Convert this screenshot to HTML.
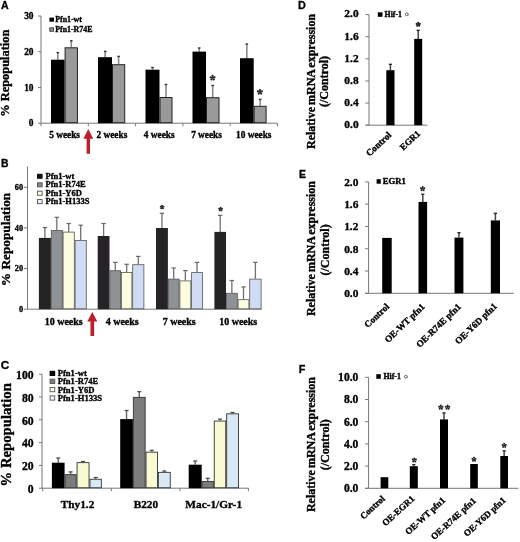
<!DOCTYPE html>
<html><head><meta charset="utf-8"><style>
html,body{margin:0;padding:0;background:#fff;}
body{width:520px;height:542px;overflow:hidden;}
svg{display:block;will-change:transform;}
</style></head><body>
<svg width="520" height="542" viewBox="0 0 520 542" shape-rendering="geometricPrecision">
<rect width="520" height="542" fill="#fff"/>
<text x="1.0" y="9.0" font-size="10.6" text-anchor="start" font-family="'Liberation Sans', sans-serif" font-weight="bold" fill="#000" stroke="#000" stroke-width="0.3" stroke-linejoin="round">A</text>
<line x1="41.0" y1="16.0" x2="41.0" y2="123.2" stroke="#777" stroke-width="1"/>
<line x1="38.0" y1="123.2" x2="41.0" y2="123.2" stroke="#777" stroke-width="1"/>
<text x="33.5" y="126.4" font-size="9.4" text-anchor="end" font-family="'Liberation Serif', serif" font-weight="bold" fill="#000" stroke="#000" stroke-width="0.35" stroke-linejoin="round">0</text>
<line x1="38.0" y1="87.46666666666667" x2="41.0" y2="87.46666666666667" stroke="#777" stroke-width="1"/>
<text x="33.5" y="90.66666666666667" font-size="9.4" text-anchor="end" font-family="'Liberation Serif', serif" font-weight="bold" fill="#000" stroke="#000" stroke-width="0.35" stroke-linejoin="round">10</text>
<line x1="38.0" y1="51.733333333333334" x2="41.0" y2="51.733333333333334" stroke="#777" stroke-width="1"/>
<text x="33.5" y="54.93333333333334" font-size="9.4" text-anchor="end" font-family="'Liberation Serif', serif" font-weight="bold" fill="#000" stroke="#000" stroke-width="0.35" stroke-linejoin="round">20</text>
<line x1="38.0" y1="16.0" x2="41.0" y2="16.0" stroke="#777" stroke-width="1"/>
<text x="33.5" y="19.2" font-size="9.4" text-anchor="end" font-family="'Liberation Serif', serif" font-weight="bold" fill="#000" stroke="#000" stroke-width="0.35" stroke-linejoin="round">30</text>
<line x1="41.0" y1="123.2" x2="277.5" y2="123.2" stroke="#777" stroke-width="1"/>
<line x1="41.0" y1="123.2" x2="41.0" y2="126.2" stroke="#777" stroke-width="1"/>
<line x1="88.3" y1="123.2" x2="88.3" y2="126.2" stroke="#777" stroke-width="1"/>
<line x1="135.6" y1="123.2" x2="135.6" y2="126.2" stroke="#777" stroke-width="1"/>
<line x1="182.89999999999998" y1="123.2" x2="182.89999999999998" y2="126.2" stroke="#777" stroke-width="1"/>
<line x1="230.2" y1="123.2" x2="230.2" y2="126.2" stroke="#777" stroke-width="1"/>
<line x1="277.5" y1="123.2" x2="277.5" y2="126.2" stroke="#777" stroke-width="1"/>
<line x1="57.8" y1="52.6" x2="57.8" y2="59.7" stroke="#8a8a8a" stroke-width="1.6"/>
<line x1="56.5" y1="52.6" x2="59.099999999999994" y2="52.6" stroke="#333" stroke-width="1.4"/>
<line x1="71.3" y1="40.8" x2="71.3" y2="47.3" stroke="#8a8a8a" stroke-width="1.6"/>
<line x1="70.0" y1="40.8" x2="72.6" y2="40.8" stroke="#333" stroke-width="1.4"/>
<rect x="51.00" y="59.70" width="13.60" height="63.50" fill="#000"/>
<rect x="65.10" y="47.80" width="12.30" height="74.90" fill="#9a9a9a" stroke="#222" stroke-width="1.0"/>
<line x1="105.2" y1="51.4" x2="105.2" y2="57.2" stroke="#8a8a8a" stroke-width="1.6"/>
<line x1="103.9" y1="51.4" x2="106.5" y2="51.4" stroke="#333" stroke-width="1.4"/>
<line x1="118.6" y1="56.4" x2="118.6" y2="64.2" stroke="#8a8a8a" stroke-width="1.6"/>
<line x1="117.3" y1="56.4" x2="119.89999999999999" y2="56.4" stroke="#333" stroke-width="1.4"/>
<rect x="98.00" y="57.20" width="14.00" height="66.00" fill="#000"/>
<rect x="112.50" y="64.70" width="12.20" height="58.00" fill="#9a9a9a" stroke="#222" stroke-width="1.0"/>
<line x1="152.5" y1="67.5" x2="152.5" y2="69.7" stroke="#8a8a8a" stroke-width="1.6"/>
<line x1="151.2" y1="67.5" x2="153.8" y2="67.5" stroke="#333" stroke-width="1.4"/>
<line x1="166" y1="84.5" x2="166" y2="97.0" stroke="#8a8a8a" stroke-width="1.6"/>
<line x1="164.7" y1="84.5" x2="167.3" y2="84.5" stroke="#333" stroke-width="1.4"/>
<rect x="145.50" y="69.70" width="14.00" height="53.50" fill="#000"/>
<rect x="160.00" y="97.50" width="12.00" height="25.20" fill="#9a9a9a" stroke="#222" stroke-width="1.0"/>
<line x1="199.2" y1="48.0" x2="199.2" y2="51.6" stroke="#8a8a8a" stroke-width="1.6"/>
<line x1="197.89999999999998" y1="48.0" x2="200.5" y2="48.0" stroke="#333" stroke-width="1.4"/>
<line x1="212.7" y1="85.5" x2="212.7" y2="97.2" stroke="#8a8a8a" stroke-width="1.6"/>
<line x1="211.39999999999998" y1="85.5" x2="214.0" y2="85.5" stroke="#333" stroke-width="1.4"/>
<rect x="192.50" y="51.60" width="13.50" height="71.60" fill="#000"/>
<rect x="206.50" y="97.70" width="12.50" height="25.00" fill="#9a9a9a" stroke="#222" stroke-width="1.0"/>
<line x1="246.8" y1="44.0" x2="246.8" y2="58.2" stroke="#8a8a8a" stroke-width="1.6"/>
<line x1="245.5" y1="44.0" x2="248.10000000000002" y2="44.0" stroke="#333" stroke-width="1.4"/>
<line x1="260.2" y1="99.4" x2="260.2" y2="105.8" stroke="#8a8a8a" stroke-width="1.6"/>
<line x1="258.9" y1="99.4" x2="261.5" y2="99.4" stroke="#333" stroke-width="1.4"/>
<rect x="240.00" y="58.20" width="13.70" height="65.00" fill="#000"/>
<rect x="254.20" y="106.30" width="11.90" height="16.40" fill="#9a9a9a" stroke="#222" stroke-width="1.0"/>
<g><line x1="212.60" y1="77.90" x2="212.60" y2="75.35" stroke="#222" stroke-width="0.75"/><circle cx="212.60" cy="75.91" r="1.11" fill="#222"/><line x1="212.60" y1="77.90" x2="215.03" y2="77.11" stroke="#222" stroke-width="0.75"/><circle cx="214.49" cy="77.29" r="1.11" fill="#222"/><line x1="212.60" y1="77.90" x2="214.10" y2="79.96" stroke="#222" stroke-width="0.75"/><circle cx="213.77" cy="79.51" r="1.11" fill="#222"/><line x1="212.60" y1="77.90" x2="211.10" y2="79.96" stroke="#222" stroke-width="0.75"/><circle cx="211.43" cy="79.51" r="1.11" fill="#222"/><line x1="212.60" y1="77.90" x2="210.17" y2="77.11" stroke="#222" stroke-width="0.75"/><circle cx="210.71" cy="77.29" r="1.11" fill="#222"/><circle cx="212.60" cy="77.90" r="0.89" fill="#222" opacity="0.75"/></g>
<g><line x1="259.90" y1="92.00" x2="259.90" y2="89.45" stroke="#222" stroke-width="0.75"/><circle cx="259.90" cy="90.01" r="1.11" fill="#222"/><line x1="259.90" y1="92.00" x2="262.33" y2="91.21" stroke="#222" stroke-width="0.75"/><circle cx="261.79" cy="91.39" r="1.11" fill="#222"/><line x1="259.90" y1="92.00" x2="261.40" y2="94.06" stroke="#222" stroke-width="0.75"/><circle cx="261.07" cy="93.61" r="1.11" fill="#222"/><line x1="259.90" y1="92.00" x2="258.40" y2="94.06" stroke="#222" stroke-width="0.75"/><circle cx="258.73" cy="93.61" r="1.11" fill="#222"/><line x1="259.90" y1="92.00" x2="257.47" y2="91.21" stroke="#222" stroke-width="0.75"/><circle cx="258.01" cy="91.39" r="1.11" fill="#222"/><circle cx="259.90" cy="92.00" r="0.89" fill="#222" opacity="0.75"/></g>
<rect x="49.40" y="17.60" width="4.60" height="4.10" fill="#000"/>
<rect x="49.85" y="27.85" width="3.70" height="3.40" fill="#9a9a9a" stroke="#333" stroke-width="0.9"/>
<text x="55.2" y="21.6" font-size="7.9" text-anchor="start" font-family="'Liberation Serif', serif" font-weight="bold" fill="#000" stroke="#000" stroke-width="0.35" stroke-linejoin="round">Pfn1-wt</text>
<text x="55.2" y="31.8" font-size="7.9" text-anchor="start" font-family="'Liberation Serif', serif" font-weight="bold" fill="#000" stroke="#000" stroke-width="0.35" stroke-linejoin="round">Pfn1-R74E</text>
<text x="64.6" y="137.6" font-size="9.3" text-anchor="middle" font-family="'Liberation Serif', serif" font-weight="bold" fill="#000" stroke="#000" stroke-width="0.35" stroke-linejoin="round">5 weeks</text>
<text x="111.89999999999999" y="137.6" font-size="9.3" text-anchor="middle" font-family="'Liberation Serif', serif" font-weight="bold" fill="#000" stroke="#000" stroke-width="0.35" stroke-linejoin="round">2 weeks</text>
<text x="159.2" y="137.6" font-size="9.3" text-anchor="middle" font-family="'Liberation Serif', serif" font-weight="bold" fill="#000" stroke="#000" stroke-width="0.35" stroke-linejoin="round">4 weeks</text>
<text x="206.49999999999997" y="137.6" font-size="9.3" text-anchor="middle" font-family="'Liberation Serif', serif" font-weight="bold" fill="#000" stroke="#000" stroke-width="0.35" stroke-linejoin="round">7 weeks</text>
<text x="253.79999999999998" y="137.6" font-size="9.3" text-anchor="middle" font-family="'Liberation Serif', serif" font-weight="bold" fill="#000" stroke="#000" stroke-width="0.35" stroke-linejoin="round">10 weeks</text>
<path d="M88.3 129.1 L93.2 138.7 L90.0 138.7 L90.0 153.7 L86.6 153.7 L86.6 138.7 L83.39999999999999 138.7 Z" fill="#bd1f2d"/>
<text x="9.1" y="73.2" font-size="12.4" text-anchor="middle" font-family="'Liberation Serif', serif" font-weight="bold" fill="#000" transform="rotate(-90 9.1 73.2)" stroke="#000" stroke-width="0.35" stroke-linejoin="round">% Repopulation</text>
<text x="1.0" y="166.5" font-size="10.4" text-anchor="start" font-family="'Liberation Sans', sans-serif" font-weight="bold" fill="#000" stroke="#000" stroke-width="0.3" stroke-linejoin="round">B</text>
<line x1="27.5" y1="166.5" x2="27.5" y2="309.2" stroke="#777" stroke-width="1"/>
<line x1="23.9" y1="309.2" x2="27.5" y2="309.2" stroke="#777" stroke-width="1"/>
<text x="23.0" y="311.8" font-size="8.2" text-anchor="end" font-family="'Liberation Serif', serif" font-weight="bold" fill="#000" stroke="#000" stroke-width="0.35" stroke-linejoin="round">0</text>
<line x1="23.9" y1="268.55" x2="27.5" y2="268.55" stroke="#777" stroke-width="1"/>
<text x="23.0" y="271.15000000000003" font-size="8.2" text-anchor="end" font-family="'Liberation Serif', serif" font-weight="bold" fill="#000" stroke="#000" stroke-width="0.35" stroke-linejoin="round">20</text>
<line x1="23.9" y1="227.89999999999998" x2="27.5" y2="227.89999999999998" stroke="#777" stroke-width="1"/>
<text x="23.0" y="230.49999999999997" font-size="8.2" text-anchor="end" font-family="'Liberation Serif', serif" font-weight="bold" fill="#000" stroke="#000" stroke-width="0.35" stroke-linejoin="round">40</text>
<line x1="23.9" y1="187.25" x2="27.5" y2="187.25" stroke="#777" stroke-width="1"/>
<text x="23.0" y="189.85" font-size="8.2" text-anchor="end" font-family="'Liberation Serif', serif" font-weight="bold" fill="#000" stroke="#000" stroke-width="0.35" stroke-linejoin="round">60</text>
<line x1="27.5" y1="309.2" x2="261.6" y2="309.2" stroke="#777" stroke-width="1"/>
<line x1="44.9" y1="227.6" x2="44.9" y2="237.9" stroke="#707070" stroke-width="1.3"/>
<line x1="42.699999999999996" y1="227.6" x2="47.1" y2="227.6" stroke="#666" stroke-width="1.2"/>
<line x1="56.8" y1="217.3" x2="56.8" y2="230.0" stroke="#707070" stroke-width="1.3"/>
<line x1="54.599999999999994" y1="217.3" x2="59.0" y2="217.3" stroke="#666" stroke-width="1.2"/>
<line x1="68.7" y1="223.5" x2="68.7" y2="231.7" stroke="#707070" stroke-width="1.3"/>
<line x1="66.5" y1="223.5" x2="70.9" y2="223.5" stroke="#666" stroke-width="1.2"/>
<line x1="80.7" y1="225.2" x2="80.7" y2="240.0" stroke="#707070" stroke-width="1.3"/>
<line x1="78.5" y1="225.2" x2="82.9" y2="225.2" stroke="#666" stroke-width="1.2"/>
<rect x="38.90" y="237.90" width="12.00" height="71.30" fill="#262326"/>
<rect x="51.30" y="230.40" width="11.00" height="78.40" fill="#8e9295" stroke="#555" stroke-width="0.8"/>
<rect x="63.10" y="232.10" width="11.20" height="76.70" fill="#fcfde0" stroke="#555" stroke-width="0.8"/>
<rect x="75.10" y="240.40" width="11.20" height="68.40" fill="#d0dcf4" stroke="#555" stroke-width="0.8"/>
<line x1="103.6" y1="223.5" x2="103.6" y2="236.0" stroke="#707070" stroke-width="1.3"/>
<line x1="101.39999999999999" y1="223.5" x2="105.8" y2="223.5" stroke="#666" stroke-width="1.2"/>
<line x1="115.25" y1="262.4" x2="115.25" y2="270.3" stroke="#707070" stroke-width="1.3"/>
<line x1="113.05" y1="262.4" x2="117.45" y2="262.4" stroke="#666" stroke-width="1.2"/>
<line x1="126.65" y1="264.3" x2="126.65" y2="272.0" stroke="#707070" stroke-width="1.3"/>
<line x1="124.45" y1="264.3" x2="128.85" y2="264.3" stroke="#666" stroke-width="1.2"/>
<line x1="138.3" y1="256.4" x2="138.3" y2="264.3" stroke="#707070" stroke-width="1.3"/>
<line x1="136.10000000000002" y1="256.4" x2="140.5" y2="256.4" stroke="#666" stroke-width="1.2"/>
<rect x="97.70" y="236.00" width="11.80" height="73.20" fill="#262326"/>
<rect x="109.90" y="270.70" width="10.70" height="38.10" fill="#8e9295" stroke="#555" stroke-width="0.8"/>
<rect x="121.40" y="272.40" width="10.50" height="36.40" fill="#fcfde0" stroke="#555" stroke-width="0.8"/>
<rect x="132.70" y="264.70" width="11.20" height="44.10" fill="#d0dcf4" stroke="#555" stroke-width="0.8"/>
<line x1="161.95" y1="213.3" x2="161.95" y2="228.0" stroke="#707070" stroke-width="1.3"/>
<line x1="159.75" y1="213.3" x2="164.14999999999998" y2="213.3" stroke="#666" stroke-width="1.2"/>
<line x1="173.7" y1="268.0" x2="173.7" y2="278.7" stroke="#707070" stroke-width="1.3"/>
<line x1="171.5" y1="268.0" x2="175.89999999999998" y2="268.0" stroke="#666" stroke-width="1.2"/>
<line x1="185.35" y1="270.6" x2="185.35" y2="280.5" stroke="#707070" stroke-width="1.3"/>
<line x1="183.15" y1="270.6" x2="187.54999999999998" y2="270.6" stroke="#666" stroke-width="1.2"/>
<line x1="197.0" y1="262.4" x2="197.0" y2="272.2" stroke="#707070" stroke-width="1.3"/>
<line x1="194.8" y1="262.4" x2="199.2" y2="262.4" stroke="#666" stroke-width="1.2"/>
<rect x="156.00" y="228.00" width="11.90" height="81.20" fill="#262326"/>
<rect x="168.30" y="279.10" width="10.80" height="29.70" fill="#8e9295" stroke="#555" stroke-width="0.8"/>
<rect x="179.90" y="280.90" width="10.90" height="27.90" fill="#fcfde0" stroke="#555" stroke-width="0.8"/>
<rect x="191.60" y="272.60" width="10.80" height="36.20" fill="#d0dcf4" stroke="#555" stroke-width="0.8"/>
<line x1="220.2" y1="215.3" x2="220.2" y2="231.9" stroke="#707070" stroke-width="1.3"/>
<line x1="218.0" y1="215.3" x2="222.39999999999998" y2="215.3" stroke="#666" stroke-width="1.2"/>
<line x1="231.85" y1="280.5" x2="231.85" y2="292.9" stroke="#707070" stroke-width="1.3"/>
<line x1="229.65" y1="280.5" x2="234.04999999999998" y2="280.5" stroke="#666" stroke-width="1.2"/>
<line x1="243.5" y1="286.9" x2="243.5" y2="299.3" stroke="#707070" stroke-width="1.3"/>
<line x1="241.3" y1="286.9" x2="245.7" y2="286.9" stroke="#666" stroke-width="1.2"/>
<line x1="255.4" y1="262.4" x2="255.4" y2="278.7" stroke="#707070" stroke-width="1.3"/>
<line x1="253.20000000000002" y1="262.4" x2="257.6" y2="262.4" stroke="#666" stroke-width="1.2"/>
<rect x="214.40" y="231.90" width="11.60" height="77.30" fill="#262326"/>
<rect x="226.40" y="293.30" width="10.90" height="15.50" fill="#8e9295" stroke="#555" stroke-width="0.8"/>
<rect x="238.10" y="299.70" width="10.80" height="9.10" fill="#fcfde0" stroke="#555" stroke-width="0.8"/>
<rect x="249.70" y="279.10" width="11.40" height="29.70" fill="#d0dcf4" stroke="#555" stroke-width="0.8"/>
<g><line x1="162.10" y1="207.10" x2="162.10" y2="205.20" stroke="#222" stroke-width="0.73"/><circle cx="162.10" cy="205.61" r="0.91" fill="#222"/><line x1="162.10" y1="207.10" x2="163.91" y2="206.51" stroke="#222" stroke-width="0.73"/><circle cx="163.51" cy="206.64" r="0.91" fill="#222"/><line x1="162.10" y1="207.10" x2="163.22" y2="208.64" stroke="#222" stroke-width="0.73"/><circle cx="162.97" cy="208.30" r="0.91" fill="#222"/><line x1="162.10" y1="207.10" x2="160.98" y2="208.64" stroke="#222" stroke-width="0.73"/><circle cx="161.23" cy="208.30" r="0.91" fill="#222"/><line x1="162.10" y1="207.10" x2="160.29" y2="206.51" stroke="#222" stroke-width="0.73"/><circle cx="160.69" cy="206.64" r="0.91" fill="#222"/><circle cx="162.10" cy="207.10" r="0.73" fill="#222" opacity="0.75"/></g>
<g><line x1="220.60" y1="209.20" x2="220.60" y2="207.30" stroke="#222" stroke-width="0.73"/><circle cx="220.60" cy="207.71" r="0.91" fill="#222"/><line x1="220.60" y1="209.20" x2="222.41" y2="208.61" stroke="#222" stroke-width="0.73"/><circle cx="222.01" cy="208.74" r="0.91" fill="#222"/><line x1="220.60" y1="209.20" x2="221.72" y2="210.74" stroke="#222" stroke-width="0.73"/><circle cx="221.47" cy="210.40" r="0.91" fill="#222"/><line x1="220.60" y1="209.20" x2="219.48" y2="210.74" stroke="#222" stroke-width="0.73"/><circle cx="219.73" cy="210.40" r="0.91" fill="#222"/><line x1="220.60" y1="209.20" x2="218.79" y2="208.61" stroke="#222" stroke-width="0.73"/><circle cx="219.19" cy="208.74" r="0.91" fill="#222"/><circle cx="220.60" cy="209.20" r="0.73" fill="#222" opacity="0.75"/></g>
<rect x="37.00" y="173.80" width="5.60" height="5.00" fill="#111"/>
<text x="45.5" y="178.9" font-size="8.5" text-anchor="start" font-family="'Liberation Serif', serif" font-weight="bold" fill="#000" stroke="#000" stroke-width="0.35" stroke-linejoin="round">Pfn1-wt</text>
<rect x="37.45" y="182.75" width="4.70" height="4.10" fill="#8a8a8a" stroke="#555" stroke-width="0.9"/>
<text x="45.5" y="187.4" font-size="8.5" text-anchor="start" font-family="'Liberation Serif', serif" font-weight="bold" fill="#000" stroke="#000" stroke-width="0.35" stroke-linejoin="round">Pfn1-R74E</text>
<rect x="37.45" y="191.15" width="4.70" height="4.10" fill="#fbfbea" stroke="#555" stroke-width="0.9"/>
<text x="45.5" y="195.79999999999998" font-size="8.5" text-anchor="start" font-family="'Liberation Serif', serif" font-weight="bold" fill="#000" stroke="#000" stroke-width="0.35" stroke-linejoin="round">Pfn1-Y6D</text>
<rect x="37.45" y="199.55" width="4.70" height="4.10" fill="#eef0f6" stroke="#555" stroke-width="0.9"/>
<text x="45.5" y="204.2" font-size="8.5" text-anchor="start" font-family="'Liberation Serif', serif" font-weight="bold" fill="#000" stroke="#000" stroke-width="0.35" stroke-linejoin="round">Pfn1-H133S</text>
<text x="63.7" y="325.0" font-size="10" text-anchor="middle" font-family="'Liberation Serif', serif" font-weight="bold" fill="#000" stroke="#000" stroke-width="0.35" stroke-linejoin="round">10 weeks</text>
<text x="122.2" y="325.0" font-size="10" text-anchor="middle" font-family="'Liberation Serif', serif" font-weight="bold" fill="#000" stroke="#000" stroke-width="0.35" stroke-linejoin="round">4 weeks</text>
<text x="179.2" y="325.0" font-size="10" text-anchor="middle" font-family="'Liberation Serif', serif" font-weight="bold" fill="#000" stroke="#000" stroke-width="0.35" stroke-linejoin="round">7 weeks</text>
<text x="238.2" y="325.0" font-size="10" text-anchor="middle" font-family="'Liberation Serif', serif" font-weight="bold" fill="#000" stroke="#000" stroke-width="0.35" stroke-linejoin="round">10 weeks</text>
<path d="M92.3 312.1 L97.3 321.6 L94.14999999999999 321.6 L94.14999999999999 335.9 L90.45 335.9 L90.45 321.6 L87.3 321.6 Z" fill="#bd1f2d"/>
<text x="10.0" y="239.5" font-size="13.3" text-anchor="middle" font-family="'Liberation Serif', serif" font-weight="bold" fill="#000" transform="rotate(-90 10.0 239.5)" stroke="#000" stroke-width="0.35" stroke-linejoin="round">% Repopulation</text>
<text x="0.8" y="369.2" font-size="11.8" text-anchor="start" font-family="'Liberation Sans', sans-serif" font-weight="bold" fill="#000" stroke="#000" stroke-width="0.3" stroke-linejoin="round">C</text>
<line x1="42.0" y1="374.2" x2="42.0" y2="488.2" stroke="#777" stroke-width="1"/>
<line x1="39.0" y1="488.2" x2="42.0" y2="488.2" stroke="#777" stroke-width="1"/>
<text x="33.6" y="492.9" font-size="11.7" text-anchor="end" font-family="'Liberation Serif', serif" font-weight="bold" fill="#000" stroke="#000" stroke-width="0.35" stroke-linejoin="round">0</text>
<line x1="39.0" y1="465.4" x2="42.0" y2="465.4" stroke="#777" stroke-width="1"/>
<text x="33.6" y="470.09999999999997" font-size="11.7" text-anchor="end" font-family="'Liberation Serif', serif" font-weight="bold" fill="#000" stroke="#000" stroke-width="0.35" stroke-linejoin="round">20</text>
<line x1="39.0" y1="442.59999999999997" x2="42.0" y2="442.59999999999997" stroke="#777" stroke-width="1"/>
<text x="33.6" y="447.29999999999995" font-size="11.7" text-anchor="end" font-family="'Liberation Serif', serif" font-weight="bold" fill="#000" stroke="#000" stroke-width="0.35" stroke-linejoin="round">40</text>
<line x1="39.0" y1="419.79999999999995" x2="42.0" y2="419.79999999999995" stroke="#777" stroke-width="1"/>
<text x="33.6" y="424.49999999999994" font-size="11.7" text-anchor="end" font-family="'Liberation Serif', serif" font-weight="bold" fill="#000" stroke="#000" stroke-width="0.35" stroke-linejoin="round">60</text>
<line x1="39.0" y1="397.0" x2="42.0" y2="397.0" stroke="#777" stroke-width="1"/>
<text x="33.6" y="401.7" font-size="11.7" text-anchor="end" font-family="'Liberation Serif', serif" font-weight="bold" fill="#000" stroke="#000" stroke-width="0.35" stroke-linejoin="round">80</text>
<line x1="39.0" y1="374.2" x2="42.0" y2="374.2" stroke="#777" stroke-width="1"/>
<text x="33.6" y="378.9" font-size="11.7" text-anchor="end" font-family="'Liberation Serif', serif" font-weight="bold" fill="#000" stroke="#000" stroke-width="0.35" stroke-linejoin="round">100</text>
<line x1="42.0" y1="488.2" x2="248.6" y2="488.2" stroke="#777" stroke-width="1"/>
<line x1="42.7" y1="488.2" x2="42.7" y2="491.2" stroke="#777" stroke-width="1"/>
<line x1="111.3" y1="488.2" x2="111.3" y2="491.2" stroke="#777" stroke-width="1"/>
<line x1="179.9" y1="488.2" x2="179.9" y2="491.2" stroke="#777" stroke-width="1"/>
<line x1="248.4" y1="488.2" x2="248.4" y2="491.2" stroke="#777" stroke-width="1"/>
<line x1="58.25" y1="458.0" x2="58.25" y2="462.7" stroke="#666" stroke-width="1.4"/>
<line x1="56.25" y1="458.0" x2="60.25" y2="458.0" stroke="#444" stroke-width="1.2"/>
<line x1="70.6" y1="471.9" x2="70.6" y2="474.2" stroke="#666" stroke-width="1.4"/>
<line x1="68.6" y1="471.9" x2="72.6" y2="471.9" stroke="#444" stroke-width="1.2"/>
<line x1="83.05" y1="461.5" x2="83.05" y2="462.2" stroke="#666" stroke-width="1.4"/>
<line x1="81.05" y1="461.5" x2="85.05" y2="461.5" stroke="#444" stroke-width="1.2"/>
<line x1="95.65" y1="477.5" x2="95.65" y2="478.8" stroke="#666" stroke-width="1.4"/>
<line x1="93.65" y1="477.5" x2="97.65" y2="477.5" stroke="#444" stroke-width="1.2"/>
<rect x="51.90" y="462.70" width="12.70" height="25.50" fill="#000"/>
<rect x="65.05" y="474.65" width="11.10" height="13.10" fill="#7c7c7c" stroke="#333" stroke-width="0.9"/>
<rect x="77.05" y="462.65" width="12.00" height="25.10" fill="#fafad2" stroke="#333" stroke-width="0.9"/>
<rect x="89.95" y="479.25" width="11.40" height="8.50" fill="#d8e9f5" stroke="#333" stroke-width="0.9"/>
<line x1="126.55000000000001" y1="410.5" x2="126.55000000000001" y2="419.1" stroke="#666" stroke-width="1.4"/>
<line x1="124.55000000000001" y1="410.5" x2="128.55" y2="410.5" stroke="#444" stroke-width="1.2"/>
<line x1="139.25" y1="391.7" x2="139.25" y2="396.9" stroke="#666" stroke-width="1.4"/>
<line x1="137.25" y1="391.7" x2="141.25" y2="391.7" stroke="#444" stroke-width="1.2"/>
<line x1="151.75" y1="450.3" x2="151.75" y2="451.7" stroke="#666" stroke-width="1.4"/>
<line x1="149.75" y1="450.3" x2="153.75" y2="450.3" stroke="#444" stroke-width="1.2"/>
<line x1="164.3" y1="471.0" x2="164.3" y2="471.9" stroke="#666" stroke-width="1.4"/>
<line x1="162.3" y1="471.0" x2="166.3" y2="471.0" stroke="#444" stroke-width="1.2"/>
<rect x="120.20" y="419.10" width="12.70" height="69.10" fill="#000"/>
<rect x="133.35" y="397.35" width="11.80" height="90.40" fill="#7c7c7c" stroke="#333" stroke-width="0.9"/>
<rect x="146.05" y="452.15" width="11.40" height="35.60" fill="#fafad2" stroke="#333" stroke-width="0.9"/>
<rect x="158.35" y="472.35" width="11.90" height="15.40" fill="#d8e9f5" stroke="#333" stroke-width="0.9"/>
<line x1="195.2" y1="461.0" x2="195.2" y2="464.7" stroke="#666" stroke-width="1.4"/>
<line x1="193.2" y1="461.0" x2="197.2" y2="461.0" stroke="#444" stroke-width="1.2"/>
<line x1="207.75" y1="478.3" x2="207.75" y2="481.1" stroke="#666" stroke-width="1.4"/>
<line x1="205.75" y1="478.3" x2="209.75" y2="478.3" stroke="#444" stroke-width="1.2"/>
<line x1="220.0" y1="419.1" x2="220.0" y2="420.6" stroke="#666" stroke-width="1.4"/>
<line x1="218.0" y1="419.1" x2="222.0" y2="419.1" stroke="#444" stroke-width="1.2"/>
<line x1="232.55" y1="412.5" x2="232.55" y2="413.4" stroke="#666" stroke-width="1.4"/>
<line x1="230.55" y1="412.5" x2="234.55" y2="412.5" stroke="#444" stroke-width="1.2"/>
<rect x="188.70" y="464.70" width="13.00" height="23.50" fill="#000"/>
<rect x="202.15" y="481.55" width="11.20" height="6.20" fill="#7c7c7c" stroke="#333" stroke-width="0.9"/>
<rect x="214.25" y="421.05" width="11.50" height="66.70" fill="#fafad2" stroke="#333" stroke-width="0.9"/>
<rect x="226.65" y="413.85" width="11.80" height="73.90" fill="#d8e9f5" stroke="#333" stroke-width="0.9"/>
<rect x="49.60" y="370.80" width="5.60" height="5.20" fill="#000"/>
<text x="57.7" y="376.29999999999995" font-size="8.6" text-anchor="start" font-family="'Liberation Serif', serif" font-weight="bold" fill="#000" stroke="#000" stroke-width="0.35" stroke-linejoin="round">Pfn1-wt</text>
<rect x="50.05" y="379.15" width="4.70" height="4.30" fill="#7c7c7c" stroke="#555" stroke-width="0.9"/>
<text x="57.7" y="384.2" font-size="8.6" text-anchor="start" font-family="'Liberation Serif', serif" font-weight="bold" fill="#000" stroke="#000" stroke-width="0.35" stroke-linejoin="round">Pfn1-R74E</text>
<rect x="50.05" y="387.45" width="4.70" height="4.30" fill="#fbfbe6" stroke="#555" stroke-width="0.9"/>
<text x="57.7" y="392.5" font-size="8.6" text-anchor="start" font-family="'Liberation Serif', serif" font-weight="bold" fill="#000" stroke="#000" stroke-width="0.35" stroke-linejoin="round">Pfn1-Y6D</text>
<rect x="50.05" y="395.85" width="4.70" height="4.30" fill="#eef3f8" stroke="#555" stroke-width="0.9"/>
<text x="57.7" y="400.9" font-size="8.6" text-anchor="start" font-family="'Liberation Serif', serif" font-weight="bold" fill="#000" stroke="#000" stroke-width="0.35" stroke-linejoin="round">Pfn1-H133S</text>
<text x="77.5" y="508.4" font-size="11.3" text-anchor="middle" font-family="'Liberation Serif', serif" font-weight="bold" fill="#000" stroke="#000" stroke-width="0.35" stroke-linejoin="round">Thy1.2</text>
<text x="145.9" y="508.4" font-size="11.3" text-anchor="middle" font-family="'Liberation Serif', serif" font-weight="bold" fill="#000" stroke="#000" stroke-width="0.35" stroke-linejoin="round">B220</text>
<text x="213.7" y="508.4" font-size="11.3" text-anchor="middle" font-family="'Liberation Serif', serif" font-weight="bold" fill="#000" stroke="#000" stroke-width="0.35" stroke-linejoin="round">Mac-1/Gr-1</text>
<text x="11.5" y="434.8" font-size="14.7" text-anchor="middle" font-family="'Liberation Serif', serif" font-weight="bold" fill="#000" transform="rotate(-90 11.5 434.8)" stroke="#000" stroke-width="0.35" stroke-linejoin="round">% Repopulation</text>
<text x="298.0" y="9.0" font-size="10.8" text-anchor="start" font-family="'Liberation Sans', sans-serif" font-weight="bold" fill="#000" stroke="#000" stroke-width="0.3" stroke-linejoin="round">D</text>
<line x1="369.0" y1="14.599999999999994" x2="369.0" y2="125.2" stroke="#777" stroke-width="1"/>
<line x1="365.5" y1="125.2" x2="369.0" y2="125.2" stroke="#777" stroke-width="1"/>
<text x="358.6" y="128.0" font-size="11.4" text-anchor="end" font-family="'Liberation Serif', serif" font-weight="bold" fill="#000" stroke="#000" stroke-width="0.35" stroke-linejoin="round">0.0</text>
<line x1="365.5" y1="103.08" x2="369.0" y2="103.08" stroke="#777" stroke-width="1"/>
<text x="358.6" y="105.88" font-size="11.4" text-anchor="end" font-family="'Liberation Serif', serif" font-weight="bold" fill="#000" stroke="#000" stroke-width="0.35" stroke-linejoin="round">0.4</text>
<line x1="365.5" y1="80.96000000000001" x2="369.0" y2="80.96000000000001" stroke="#777" stroke-width="1"/>
<text x="358.6" y="83.76" font-size="11.4" text-anchor="end" font-family="'Liberation Serif', serif" font-weight="bold" fill="#000" stroke="#000" stroke-width="0.35" stroke-linejoin="round">0.8</text>
<line x1="365.5" y1="58.84" x2="369.0" y2="58.84" stroke="#777" stroke-width="1"/>
<text x="358.6" y="61.64" font-size="11.4" text-anchor="end" font-family="'Liberation Serif', serif" font-weight="bold" fill="#000" stroke="#000" stroke-width="0.35" stroke-linejoin="round">1.2</text>
<line x1="365.5" y1="36.72" x2="369.0" y2="36.72" stroke="#777" stroke-width="1"/>
<text x="358.6" y="39.52" font-size="11.4" text-anchor="end" font-family="'Liberation Serif', serif" font-weight="bold" fill="#000" stroke="#000" stroke-width="0.35" stroke-linejoin="round">1.6</text>
<line x1="365.5" y1="14.599999999999994" x2="369.0" y2="14.599999999999994" stroke="#777" stroke-width="1"/>
<text x="358.6" y="17.4" font-size="11.4" text-anchor="end" font-family="'Liberation Serif', serif" font-weight="bold" fill="#000" stroke="#000" stroke-width="0.35" stroke-linejoin="round">2.0</text>
<line x1="365.5" y1="125.2" x2="427.2" y2="125.2" stroke="#777" stroke-width="1"/>
<line x1="390.4" y1="64.3" x2="390.4" y2="70.2" stroke="#444" stroke-width="1.5"/>
<line x1="388.79999999999995" y1="64.3" x2="392.0" y2="64.3" stroke="#222" stroke-width="1.3"/>
<line x1="418.2" y1="30.3" x2="418.2" y2="38.9" stroke="#444" stroke-width="1.5"/>
<line x1="416.59999999999997" y1="30.3" x2="419.8" y2="30.3" stroke="#222" stroke-width="1.3"/>
<rect x="386.30" y="70.20" width="8.20" height="55.00" fill="#000"/>
<rect x="414.20" y="38.90" width="8.00" height="86.30" fill="#000"/>
<g><line x1="418.20" y1="24.40" x2="418.20" y2="22.27" stroke="#222" stroke-width="0.81"/><circle cx="418.20" cy="22.74" r="1.02" fill="#222"/><line x1="418.20" y1="24.40" x2="420.22" y2="23.74" stroke="#222" stroke-width="0.81"/><circle cx="419.78" cy="23.89" r="1.02" fill="#222"/><line x1="418.20" y1="24.40" x2="419.45" y2="26.12" stroke="#222" stroke-width="0.81"/><circle cx="419.17" cy="25.74" r="1.02" fill="#222"/><line x1="418.20" y1="24.40" x2="416.95" y2="26.12" stroke="#222" stroke-width="0.81"/><circle cx="417.23" cy="25.74" r="1.02" fill="#222"/><line x1="418.20" y1="24.40" x2="416.18" y2="23.74" stroke="#222" stroke-width="0.81"/><circle cx="416.62" cy="23.89" r="1.02" fill="#222"/><circle cx="418.20" cy="24.40" r="0.81" fill="#222" opacity="0.75"/></g>
<rect x="377.80" y="12.30" width="4.70" height="4.50" fill="#000"/>
<text x="384.6" y="16.9" font-size="7.3" text-anchor="start" font-family="'Liberation Serif', serif" font-weight="bold" fill="#000" textLength="17.3" lengthAdjust="spacingAndGlyphs" stroke="#000" stroke-width="0.35" stroke-linejoin="round">Hif-1</text>
<ellipse cx="406.7" cy="14.3" rx="1.35" ry="1.45" fill="none" stroke="#555" stroke-width="0.9"/>
<path d="M407.79999999999995 13.100000000000001 L408.79999999999995 15.700000000000001" stroke="#777" stroke-width="0.6" fill="none"/>
<text x="314.6" y="81.4" font-size="12.0" text-anchor="middle" font-family="'Liberation Serif', serif" font-weight="bold" fill="#000" transform="rotate(-90 314.6 81.4)" word-spacing="-1.0" stroke="#000" stroke-width="0.35" stroke-linejoin="round">Relative mRNA expression</text>
<text x="328.2" y="81.5" font-size="12" text-anchor="middle" font-family="'Liberation Serif', serif" font-weight="bold" fill="#000" transform="rotate(-90 328.2 81.5)" stroke="#000" stroke-width="0.35" stroke-linejoin="round">(/Control)</text>
<text x="392.0" y="135.8" font-size="9.3" text-anchor="end" font-family="'Liberation Serif', serif" font-weight="bold" fill="#000" transform="rotate(-43 392.0 135.8)" stroke="#000" stroke-width="0.35" stroke-linejoin="round">Control</text>
<text x="420.9" y="134.3" font-size="9.0" text-anchor="end" font-family="'Liberation Serif', serif" font-weight="bold" fill="#000" transform="rotate(-43 420.9 134.3)" stroke="#000" stroke-width="0.35" stroke-linejoin="round">EGR1</text>
<text x="299.0" y="177.5" font-size="10.4" text-anchor="start" font-family="'Liberation Sans', sans-serif" font-weight="bold" fill="#000" stroke="#000" stroke-width="0.3" stroke-linejoin="round">E</text>
<line x1="368.6" y1="181.9" x2="368.6" y2="293.3" stroke="#777" stroke-width="1"/>
<line x1="365.1" y1="293.3" x2="368.6" y2="293.3" stroke="#777" stroke-width="1"/>
<text x="358.4" y="297.3" font-size="11.4" text-anchor="end" font-family="'Liberation Serif', serif" font-weight="bold" fill="#000" stroke="#000" stroke-width="0.35" stroke-linejoin="round">0.0</text>
<line x1="365.1" y1="271.02" x2="368.6" y2="271.02" stroke="#777" stroke-width="1"/>
<text x="358.4" y="275.02" font-size="11.4" text-anchor="end" font-family="'Liberation Serif', serif" font-weight="bold" fill="#000" stroke="#000" stroke-width="0.35" stroke-linejoin="round">0.4</text>
<line x1="365.1" y1="248.74" x2="368.6" y2="248.74" stroke="#777" stroke-width="1"/>
<text x="358.4" y="252.74" font-size="11.4" text-anchor="end" font-family="'Liberation Serif', serif" font-weight="bold" fill="#000" stroke="#000" stroke-width="0.35" stroke-linejoin="round">0.8</text>
<line x1="365.1" y1="226.46" x2="368.6" y2="226.46" stroke="#777" stroke-width="1"/>
<text x="358.4" y="230.46" font-size="11.4" text-anchor="end" font-family="'Liberation Serif', serif" font-weight="bold" fill="#000" stroke="#000" stroke-width="0.35" stroke-linejoin="round">1.2</text>
<line x1="365.1" y1="204.18" x2="368.6" y2="204.18" stroke="#777" stroke-width="1"/>
<text x="358.4" y="208.18" font-size="11.4" text-anchor="end" font-family="'Liberation Serif', serif" font-weight="bold" fill="#000" stroke="#000" stroke-width="0.35" stroke-linejoin="round">1.6</text>
<line x1="365.1" y1="181.9" x2="368.6" y2="181.9" stroke="#777" stroke-width="1"/>
<text x="358.4" y="185.9" font-size="11.4" text-anchor="end" font-family="'Liberation Serif', serif" font-weight="bold" fill="#000" stroke="#000" stroke-width="0.35" stroke-linejoin="round">2.0</text>
<line x1="365.1" y1="293.3" x2="513.8" y2="293.3" stroke="#777" stroke-width="1"/>
<rect x="382.20" y="237.90" width="9.50" height="55.40" fill="#000"/>
<line x1="422.8" y1="194.2" x2="422.8" y2="201.9" stroke="#444" stroke-width="1.5"/>
<line x1="421.2" y1="194.2" x2="424.40000000000003" y2="194.2" stroke="#222" stroke-width="1.3"/>
<rect x="418.50" y="201.90" width="8.60" height="91.40" fill="#000"/>
<line x1="458.95" y1="232.7" x2="458.95" y2="237.6" stroke="#444" stroke-width="1.5"/>
<line x1="457.34999999999997" y1="232.7" x2="460.55" y2="232.7" stroke="#222" stroke-width="1.3"/>
<rect x="454.50" y="237.60" width="8.90" height="55.70" fill="#000"/>
<line x1="495.4" y1="213.3" x2="495.4" y2="220.4" stroke="#444" stroke-width="1.5"/>
<line x1="493.79999999999995" y1="213.3" x2="497.0" y2="213.3" stroke="#222" stroke-width="1.3"/>
<rect x="490.80" y="220.40" width="9.20" height="72.90" fill="#000"/>
<g><line x1="422.60" y1="188.70" x2="422.60" y2="186.41" stroke="#222" stroke-width="0.68"/><circle cx="422.60" cy="186.91" r="1.00" fill="#222"/><line x1="422.60" y1="188.70" x2="424.78" y2="187.99" stroke="#222" stroke-width="0.68"/><circle cx="424.30" cy="188.15" r="1.00" fill="#222"/><line x1="422.60" y1="188.70" x2="423.95" y2="190.56" stroke="#222" stroke-width="0.68"/><circle cx="423.65" cy="190.15" r="1.00" fill="#222"/><line x1="422.60" y1="188.70" x2="421.25" y2="190.56" stroke="#222" stroke-width="0.68"/><circle cx="421.55" cy="190.15" r="1.00" fill="#222"/><line x1="422.60" y1="188.70" x2="420.42" y2="187.99" stroke="#222" stroke-width="0.68"/><circle cx="420.90" cy="188.15" r="1.00" fill="#222"/><circle cx="422.60" cy="188.70" r="0.80" fill="#222" opacity="0.75"/></g>
<rect x="376.60" y="179.20" width="4.20" height="4.50" fill="#000"/>
<text x="382.8" y="184.1" font-size="7.5" text-anchor="start" font-family="'Liberation Serif', serif" font-weight="bold" fill="#000" textLength="23" lengthAdjust="spacingAndGlyphs" stroke="#000" stroke-width="0.35" stroke-linejoin="round">EGR1</text>
<text x="315.0" y="248.5" font-size="12.0" text-anchor="middle" font-family="'Liberation Serif', serif" font-weight="bold" fill="#000" transform="rotate(-90 315.0 248.5)" word-spacing="-1.0" stroke="#000" stroke-width="0.35" stroke-linejoin="round">Relative mRNA expression</text>
<text x="328.9" y="249.9" font-size="12" text-anchor="middle" font-family="'Liberation Serif', serif" font-weight="bold" fill="#000" transform="rotate(-90 328.9 249.9)" stroke="#000" stroke-width="0.35" stroke-linejoin="round">(/Control)</text>
<text x="389.8" y="307.2" font-size="9.2" text-anchor="end" font-family="'Liberation Serif', serif" font-weight="bold" fill="#000" transform="rotate(-44 389.8 307.2)" stroke="#000" stroke-width="0.35" stroke-linejoin="round">Control</text>
<text x="425.4" y="307.3" font-size="9.2" text-anchor="end" font-family="'Liberation Serif', serif" font-weight="bold" fill="#000" transform="rotate(-44 425.4 307.3)" stroke="#000" stroke-width="0.35" stroke-linejoin="round">OE-WT pfn1</text>
<text x="461.7" y="307.3" font-size="9.2" text-anchor="end" font-family="'Liberation Serif', serif" font-weight="bold" fill="#000" transform="rotate(-44 461.7 307.3)" stroke="#000" stroke-width="0.35" stroke-linejoin="round">OE-R74E pfn1</text>
<text x="497.7" y="306.9" font-size="9.2" text-anchor="end" font-family="'Liberation Serif', serif" font-weight="bold" fill="#000" transform="rotate(-44 497.7 306.9)" stroke="#000" stroke-width="0.35" stroke-linejoin="round">OE-Y6D pfn1</text>
<text x="298.8" y="372.9" font-size="10.8" text-anchor="start" font-family="'Liberation Sans', sans-serif" font-weight="bold" fill="#000" stroke="#000" stroke-width="0.3" stroke-linejoin="round">F</text>
<line x1="368.6" y1="377.3" x2="368.6" y2="488.3" stroke="#777" stroke-width="1"/>
<line x1="365.1" y1="488.3" x2="368.6" y2="488.3" stroke="#777" stroke-width="1"/>
<text x="358.4" y="492.1" font-size="11.6" text-anchor="end" font-family="'Liberation Serif', serif" font-weight="bold" fill="#000" stroke="#000" stroke-width="0.35" stroke-linejoin="round">0.0</text>
<line x1="365.1" y1="466.1" x2="368.6" y2="466.1" stroke="#777" stroke-width="1"/>
<text x="358.4" y="469.9" font-size="11.6" text-anchor="end" font-family="'Liberation Serif', serif" font-weight="bold" fill="#000" stroke="#000" stroke-width="0.35" stroke-linejoin="round">2.0</text>
<line x1="365.1" y1="443.90000000000003" x2="368.6" y2="443.90000000000003" stroke="#777" stroke-width="1"/>
<text x="358.4" y="447.7" font-size="11.6" text-anchor="end" font-family="'Liberation Serif', serif" font-weight="bold" fill="#000" stroke="#000" stroke-width="0.35" stroke-linejoin="round">4.0</text>
<line x1="365.1" y1="421.70000000000005" x2="368.6" y2="421.70000000000005" stroke="#777" stroke-width="1"/>
<text x="358.4" y="425.5" font-size="11.6" text-anchor="end" font-family="'Liberation Serif', serif" font-weight="bold" fill="#000" stroke="#000" stroke-width="0.35" stroke-linejoin="round">6.0</text>
<line x1="365.1" y1="399.5" x2="368.6" y2="399.5" stroke="#777" stroke-width="1"/>
<text x="358.4" y="403.3" font-size="11.6" text-anchor="end" font-family="'Liberation Serif', serif" font-weight="bold" fill="#000" stroke="#000" stroke-width="0.35" stroke-linejoin="round">8.0</text>
<line x1="365.1" y1="377.3" x2="368.6" y2="377.3" stroke="#777" stroke-width="1"/>
<text x="358.4" y="381.1" font-size="11.6" text-anchor="end" font-family="'Liberation Serif', serif" font-weight="bold" fill="#000" stroke="#000" stroke-width="0.35" stroke-linejoin="round">10.0</text>
<line x1="365.1" y1="488.3" x2="518.5" y2="488.3" stroke="#777" stroke-width="1"/>
<rect x="380.60" y="477.20" width="7.70" height="11.10" fill="#000"/>
<line x1="413.8" y1="464.6" x2="413.8" y2="466.2" stroke="#444" stroke-width="1.5"/>
<line x1="412.2" y1="464.6" x2="415.40000000000003" y2="464.6" stroke="#222" stroke-width="1.3"/>
<rect x="409.80" y="466.20" width="8.00" height="22.10" fill="#000"/>
<line x1="444.0" y1="412.9" x2="444.0" y2="419.4" stroke="#444" stroke-width="1.5"/>
<line x1="442.4" y1="412.9" x2="445.6" y2="412.9" stroke="#222" stroke-width="1.3"/>
<rect x="440.00" y="419.40" width="8.00" height="68.90" fill="#000"/>
<rect x="470.20" y="464.00" width="7.60" height="24.30" fill="#000"/>
<line x1="504.15" y1="450.8" x2="504.15" y2="456.0" stroke="#444" stroke-width="1.5"/>
<line x1="502.54999999999995" y1="450.8" x2="505.75" y2="450.8" stroke="#222" stroke-width="1.3"/>
<rect x="500.30" y="456.00" width="7.70" height="32.30" fill="#000"/>
<g><line x1="414.30" y1="460.10" x2="414.30" y2="457.89" stroke="#222" stroke-width="0.65"/><circle cx="414.30" cy="458.38" r="0.96" fill="#222"/><line x1="414.30" y1="460.10" x2="416.40" y2="459.42" stroke="#222" stroke-width="0.65"/><circle cx="415.94" cy="459.57" r="0.96" fill="#222"/><line x1="414.30" y1="460.10" x2="415.60" y2="461.89" stroke="#222" stroke-width="0.65"/><circle cx="415.31" cy="461.49" r="0.96" fill="#222"/><line x1="414.30" y1="460.10" x2="413.00" y2="461.89" stroke="#222" stroke-width="0.65"/><circle cx="413.29" cy="461.49" r="0.96" fill="#222"/><line x1="414.30" y1="460.10" x2="412.20" y2="459.42" stroke="#222" stroke-width="0.65"/><circle cx="412.66" cy="459.57" r="0.96" fill="#222"/><circle cx="414.30" cy="460.10" r="0.77" fill="#222" opacity="0.75"/></g>
<g><line x1="440.80" y1="407.30" x2="440.80" y2="405.00" stroke="#222" stroke-width="0.68"/><circle cx="440.80" cy="405.51" r="1.00" fill="#222"/><line x1="440.80" y1="407.30" x2="442.98" y2="406.59" stroke="#222" stroke-width="0.68"/><circle cx="442.50" cy="406.75" r="1.00" fill="#222"/><line x1="440.80" y1="407.30" x2="442.15" y2="409.16" stroke="#222" stroke-width="0.68"/><circle cx="441.85" cy="408.75" r="1.00" fill="#222"/><line x1="440.80" y1="407.30" x2="439.45" y2="409.16" stroke="#222" stroke-width="0.68"/><circle cx="439.75" cy="408.75" r="1.00" fill="#222"/><line x1="440.80" y1="407.30" x2="438.62" y2="406.59" stroke="#222" stroke-width="0.68"/><circle cx="439.10" cy="406.75" r="1.00" fill="#222"/><circle cx="440.80" cy="407.30" r="0.80" fill="#222" opacity="0.75"/></g>
<g><line x1="447.60" y1="407.30" x2="447.60" y2="405.00" stroke="#222" stroke-width="0.68"/><circle cx="447.60" cy="405.51" r="1.00" fill="#222"/><line x1="447.60" y1="407.30" x2="449.78" y2="406.59" stroke="#222" stroke-width="0.68"/><circle cx="449.30" cy="406.75" r="1.00" fill="#222"/><line x1="447.60" y1="407.30" x2="448.95" y2="409.16" stroke="#222" stroke-width="0.68"/><circle cx="448.65" cy="408.75" r="1.00" fill="#222"/><line x1="447.60" y1="407.30" x2="446.25" y2="409.16" stroke="#222" stroke-width="0.68"/><circle cx="446.55" cy="408.75" r="1.00" fill="#222"/><line x1="447.60" y1="407.30" x2="445.42" y2="406.59" stroke="#222" stroke-width="0.68"/><circle cx="445.90" cy="406.75" r="1.00" fill="#222"/><circle cx="447.60" cy="407.30" r="0.80" fill="#222" opacity="0.75"/></g>
<g><line x1="474.00" y1="459.40" x2="474.00" y2="457.19" stroke="#222" stroke-width="0.65"/><circle cx="474.00" cy="457.68" r="0.96" fill="#222"/><line x1="474.00" y1="459.40" x2="476.10" y2="458.72" stroke="#222" stroke-width="0.65"/><circle cx="475.64" cy="458.87" r="0.96" fill="#222"/><line x1="474.00" y1="459.40" x2="475.30" y2="461.19" stroke="#222" stroke-width="0.65"/><circle cx="475.01" cy="460.79" r="0.96" fill="#222"/><line x1="474.00" y1="459.40" x2="472.70" y2="461.19" stroke="#222" stroke-width="0.65"/><circle cx="472.99" cy="460.79" r="0.96" fill="#222"/><line x1="474.00" y1="459.40" x2="471.90" y2="458.72" stroke="#222" stroke-width="0.65"/><circle cx="472.36" cy="458.87" r="0.96" fill="#222"/><circle cx="474.00" cy="459.40" r="0.77" fill="#222" opacity="0.75"/></g>
<g><line x1="504.20" y1="445.50" x2="504.20" y2="443.29" stroke="#222" stroke-width="0.65"/><circle cx="504.20" cy="443.78" r="0.96" fill="#222"/><line x1="504.20" y1="445.50" x2="506.30" y2="444.82" stroke="#222" stroke-width="0.65"/><circle cx="505.84" cy="444.97" r="0.96" fill="#222"/><line x1="504.20" y1="445.50" x2="505.50" y2="447.29" stroke="#222" stroke-width="0.65"/><circle cx="505.21" cy="446.89" r="0.96" fill="#222"/><line x1="504.20" y1="445.50" x2="502.90" y2="447.29" stroke="#222" stroke-width="0.65"/><circle cx="503.19" cy="446.89" r="0.96" fill="#222"/><line x1="504.20" y1="445.50" x2="502.10" y2="444.82" stroke="#222" stroke-width="0.65"/><circle cx="502.56" cy="444.97" r="0.96" fill="#222"/><circle cx="504.20" cy="445.50" r="0.77" fill="#222" opacity="0.75"/></g>
<rect x="376.30" y="374.20" width="4.50" height="4.60" fill="#000"/>
<text x="383.5" y="378.9" font-size="7.2" text-anchor="start" font-family="'Liberation Serif', serif" font-weight="bold" fill="#000" textLength="17.3" lengthAdjust="spacingAndGlyphs" stroke="#000" stroke-width="0.35" stroke-linejoin="round">Hif-1</text>
<ellipse cx="405.8" cy="376.8" rx="1.35" ry="1.45" fill="none" stroke="#555" stroke-width="0.9"/>
<path d="M406.9 375.6 L407.9 378.2" stroke="#777" stroke-width="0.6" fill="none"/>
<text x="314.8" y="444.5" font-size="12.0" text-anchor="middle" font-family="'Liberation Serif', serif" font-weight="bold" fill="#000" transform="rotate(-90 314.8 444.5)" word-spacing="-1.0" stroke="#000" stroke-width="0.35" stroke-linejoin="round">Relative mRNA expression</text>
<text x="328.9" y="444.8" font-size="12" text-anchor="middle" font-family="'Liberation Serif', serif" font-weight="bold" fill="#000" transform="rotate(-90 328.9 444.8)" stroke="#000" stroke-width="0.35" stroke-linejoin="round">(/Control)</text>
<text x="385.5" y="499.5" font-size="9.0" text-anchor="end" font-family="'Liberation Serif', serif" font-weight="bold" fill="#000" transform="rotate(-42.5 385.5 499.5)" stroke="#000" stroke-width="0.35" stroke-linejoin="round">Control</text>
<text x="415.0" y="499.5" font-size="9.0" text-anchor="end" font-family="'Liberation Serif', serif" font-weight="bold" fill="#000" transform="rotate(-42.5 415.0 499.5)" stroke="#000" stroke-width="0.35" stroke-linejoin="round">OE-EGR1</text>
<text x="445.8" y="501.0" font-size="9.0" text-anchor="end" font-family="'Liberation Serif', serif" font-weight="bold" fill="#000" transform="rotate(-42.5 445.8 501.0)" stroke="#000" stroke-width="0.35" stroke-linejoin="round">OE-WT pfn1</text>
<text x="476.6" y="501.5" font-size="9.0" text-anchor="end" font-family="'Liberation Serif', serif" font-weight="bold" fill="#000" transform="rotate(-42.5 476.6 501.5)" stroke="#000" stroke-width="0.35" stroke-linejoin="round">OE-R74E pfn1</text>
<text x="506.3" y="501.0" font-size="9.0" text-anchor="end" font-family="'Liberation Serif', serif" font-weight="bold" fill="#000" transform="rotate(-42.5 506.3 501.0)" stroke="#000" stroke-width="0.35" stroke-linejoin="round">OE-Y6D pfn1</text>
</svg>
</body></html>
